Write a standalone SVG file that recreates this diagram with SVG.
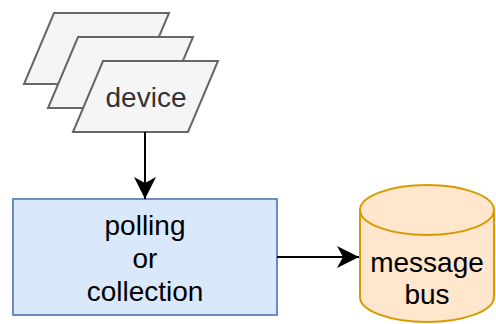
<svg xmlns="http://www.w3.org/2000/svg" width="496" height="324" viewBox="0 0 496 324">
  <style>
    .para { fill: #f5f5f5; stroke: #666666; stroke-width: 2; }
    .proc { fill: #dae8fc; stroke: #6c8ebf; stroke-width: 2; }
    .store { fill: #ffe6cc; stroke: #d79b00; stroke-width: 2; }
    .edge { fill: none; stroke: #000000; stroke-width: 2; }
    text { font-family: "Liberation Sans", Arial, sans-serif; font-size: 28px; text-anchor: middle; }
    .grey { fill: #333333; }
    .dark { fill: #000000; }
  </style>
  <defs>
    <marker id="arrow" markerUnits="userSpaceOnUse" viewBox="0 0 22 22" refX="22" refY="11" markerWidth="22" markerHeight="22" orient="auto">
      <path d="M0,0 L22,11 L0,22 L6,11 Z" fill="#000000"/>
    </marker>
  </defs>

  <!-- stacked device parallelograms -->
  <g id="device">
    <polygon class="para" points="54,13 169,13 139,84 24,84"/>
    <polygon class="para" points="78,37 193,37 163,108 48,108"/>
    <polygon class="para" points="103,61 218,61 188,132 73,132"/>
    <text class="grey" x="146" y="107">device</text>
  </g>

  <!-- processing step -->
  <g id="polling">
    <rect class="proc" x="13" y="199" width="264" height="116"/>
    <text class="dark" x="145" y="235">polling</text>
    <text class="dark" x="145" y="268">or</text>
    <text class="dark" x="145" y="301">collection</text>
  </g>

  <!-- message bus cylinder -->
  <g id="message-bus">
    <path class="store" d="M360,210 A67,25 0 0 1 494,210 L494,297 A67,25 0 0 1 360,297 Z"/>
    <path class="store" d="M360,210 A67,25 0 0 0 494,210" fill="none"/>
    <text class="dark" x="427" y="272">message</text>
    <text class="dark" x="427" y="304">bus</text>
  </g>

  <!-- connectors -->
  <g id="edges">
    <path class="edge" d="M145,132 L145,199" marker-end="url(#arrow)"/>
    <path class="edge" d="M277,257 L359,257" marker-end="url(#arrow)"/>
  </g>
</svg>
